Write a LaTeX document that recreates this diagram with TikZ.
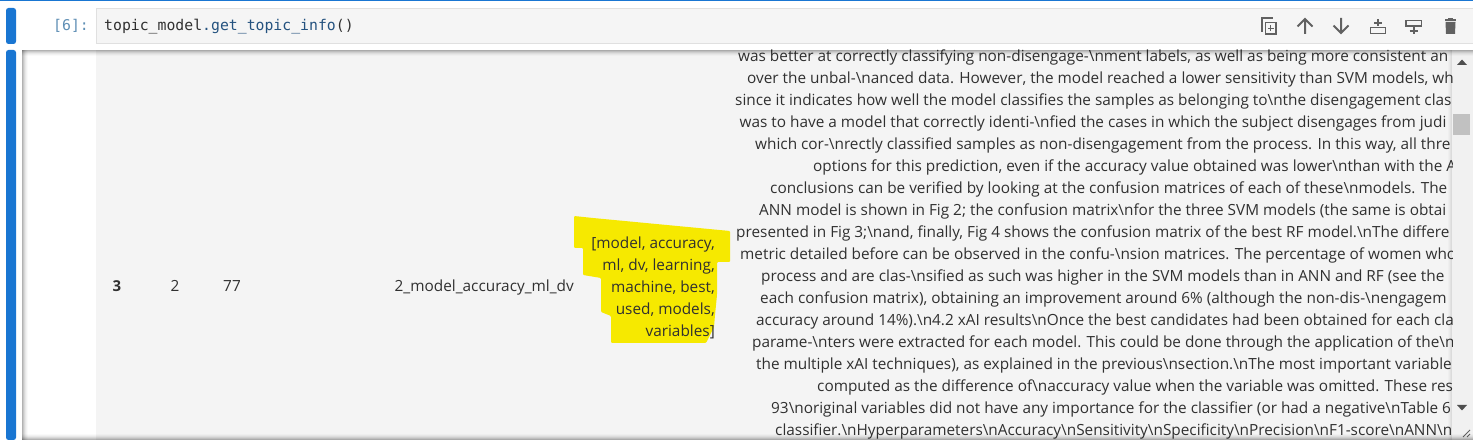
\documentclass[tikz,border=0pt]{standalone}
\usepackage{fontspec}
\setmainfont{Open Sans}
\newfontfamily\codefont{DejaVu Sans Mono}
\newcommand{\bs}{\textbackslash}
\definecolor{jblue}{HTML}{1976D2}
\definecolor{bodyink}{HTML}{303030}
\definecolor{panelgrey}{HTML}{F4F4F4}
\definecolor{inputgrey}{HTML}{F5F5F5}
\definecolor{inputline}{HTML}{E0E0E0}
\definecolor{iconink}{HTML}{616161}
\definecolor{codeblue}{HTML}{24527F}
\definecolor{promptblue}{HTML}{5F8FB5}
\definecolor{hilite}{HTML}{F6E900}
\definecolor{scrollbg}{HTML}{F1F1F1}
\definecolor{scrollthumb}{HTML}{C1C1C1}
\tikzset{
  x=1pt,y=-1pt,
  bodyline/.style={anchor=base west,inner sep=0pt,text=bodyink,font=\fontsize{15.35}{17}\selectfont},
  cellcell/.style={anchor=base,inner sep=0pt,text=bodyink,font=\fontsize{15.35}{17}\selectfont},
  reprline/.style={cellcell,anchor=base east},
  codeline/.style={anchor=base west,inner sep=0pt,font=\codefont\fontsize{14.8}{17}\selectfont},
  sidebar/.style={fill=jblue,rounded corners=2.5pt},
  iconline/.style={draw=iconink,line width=2pt},
  iconfill/.style={fill=iconink},
}
\begin{document}
\begin{tikzpicture}
\useasboundingbox (0,0) rectangle (1473,443);
\fill[white] (0,0) rectangle (1473,443);
% top rule and side bars
\fill[jblue] (0,0) rectangle (1473,1.5);
\fill[sidebar] (6,8) rectangle (16,44);
\fill[sidebar] (6,50) rectangle (16,440);
% input box
\draw[fill=inputgrey,draw=inputline] (96.5,8.5) rectangle (1474,43.5);
\node[codeline,text=promptblue] (prompt) at (53,31) {[6]:};
\node[codeline] (code) at (104,31) {\textcolor{bodyink}{topic\_model}\textcolor{codeblue}{.get\_topic\_info}\textcolor{bodyink}{()}};
% output panel
\fill[panelgrey] (96,50) rectangle (1452,440);
\fill[scrollbg] (1452,50) rectangle (1473,440);
% highlighter
\fill[hilite,rounded corners=1pt] (574,216) -- (593,218) -- (730,231) -- (730,262) -- (717,262)
  -- (717,295) -- (715,315) -- (714,327) -- (706,343) -- (611,343) -- (611,316) -- (601,312)
  -- (601,278) -- (583,275) -- (583,248) -- (574,248) -- cycle;
% table cells
\node[cellcell,font=\fontsize{15}{17}\selectfont\bfseries] (idx) at (117,292) {3};
\node[cellcell] (topic) at (175,292) {2};
\node[cellcell] (count) at (232,292) {77};
\node[cellcell,anchor=base west] (name) at (394.5,292) {2\_model\_accuracy\_ml\_dv};
\node[reprline] (r1) at (715,249) {[model, accuracy,};
\node[reprline] (r2) at (715,271) {ml, dv, learning,};
\node[reprline] (r3) at (715,293) {machine, best,};
\node[reprline] (r4) at (715,315) {used, models,};
\node[reprline] (r5) at (715,337) {variables]};
% long document text, cut off by the scrolling panel
\begin{scope}
\clip (730,48) rectangle (1452,440);
\node[bodyline] (l1) at (738,61.3) {was better at correctly classifying non-disengage-\bs{}nment labels, as well as being more consistent an};
\node[bodyline] (l2) at (747,83.3) {over the unbal-\bs{}nanced data. However, the model reached a lower sensitivity than SVM models, wh};
\node[bodyline] (l3) at (735,105.3) {since it indicates how well the model classifies the samples as belonging to\bs{}nthe disengagement clas};
\node[bodyline] (l4) at (739.5,127.3) {was to have a model that correctly identi-\bs{}nfied the cases in which the subject disengages from judi};
\node[bodyline] (l5) at (755,149.3) {which cor-\bs{}nrectly classified samples as non-disengagement from the process. In this way, all thre};
\node[bodyline] (l6) at (813,171.3) {options for this prediction, even if the accuracy value obtained was lower\bs{}nthan with the A};
\node[bodyline] (l7) at (770,193.3) {conclusions can be verified by looking at the confusion matrices of each of these\bs{}nmodels. The};
\node[bodyline] (l8) at (759,215.3) {ANN model is shown in Fig 2; the confusion matrix\bs{}nfor the three SVM models (the same is obtai};
\node[bodyline] (l9) at (736,237.3) {presented in Fig 3;\bs{}nand, finally, Fig 4 shows the confusion matrix of the best RF model.\bs{}nThe differe};
\node[bodyline] (l10) at (740,259.3) {metric detailed before can be observed in the confu-\bs{}nsion matrices. The percentage of women who};
\node[bodyline] (l11) at (761,281.3) {process and are clas-\bs{}nsified as such was higher in the SVM models than in ANN and RF (see the};
\node[bodyline] (l12) at (760,303.3) {each confusion matrix), obtaining an improvement around 6\% (although the non-dis-\bs{}nengagem};
\node[bodyline] (l13) at (756,325.3) {accuracy around 14\%).\bs{}n4.2 xAI results\bs{}nOnce the best candidates had been obtained for each cla};
\node[bodyline] (l14) at (752,347.3) {parame-\bs{}nters were extracted for each model. This could be done through the application of the\bs{}n};
\node[bodyline] (l15) at (756,369.3) {the multiple xAI techniques), as explained in the previous\bs{}nsection.\bs{}nThe most important variable};
\node[bodyline] (l16) at (817,391.3) {computed as the difference of\bs{}naccuracy value when the variable was omitted. These res};
\node[bodyline] (l17) at (771,413.3) {93\bs{}noriginal variables did not have any importance for the classifier (or had a negative\bs{}nTable 6};
\node[bodyline] (l18) at (775,435.3) {classifier.\bs{}nHyperparameters\bs{}nAccuracy\bs{}nSensitivity\bs{}nSpecificity\bs{}nPrecision\bs{}nF1-score\bs{}nANN\bs{}n};
\end{scope}
% scrollbar
\foreach \i/\o in {0/.10,1/.07,2/.04,3/.02}{
  \fill[black,opacity=\o] (1451-\i,50) rectangle (1452-\i,440);
}
\fill[scrollthumb] (1453,114) rectangle (1470,135);
\fill[iconink!80!black] (1457,65) -- (1462,59.5) -- (1467,65) -- cycle;
\fill[iconink!80!black] (1457,405) -- (1462,410.5) -- (1467,405) -- cycle;
\draw[iconink,line width=.8pt] (1463,437) -- (1470,430) (1467,437) -- (1470,434);
% panel shadows
\foreach \i/\o in {0/.30,1/.22,2/.15,3/.09,4/.05,5/.02}{
  \fill[black,opacity=\o] (22,50+\i) rectangle (1473,51+\i);
  \fill[black,opacity=\o] (22+\i,50) rectangle (23+\i,440);
  \fill[black,opacity=\o] (22,439-\i) rectangle (1473,440-\i);
}
% toolbar: duplicate
\draw[iconline,line width=1.4pt] (1262,32) -- (1262,18) -- (1273,18);
\draw[iconline,line width=1.5pt] (1265.5,22.5) rectangle (1276,34);
\draw[iconline,line width=1.1pt] (1270.7,25.5) -- (1270.7,31) (1268,28.2) -- (1273.5,28.2);
% toolbar: move up, move down
\draw[iconline] (1305,34) -- (1305,20) (1297.5,26.5) -- (1305,19) -- (1312.5,26.5);
\draw[iconline] (1341,18) -- (1341,32) (1333.5,25.5) -- (1341,33) -- (1348.5,25.5);
% toolbar: insert above
\draw[iconline,line width=1.8pt] (1370.5,27.5) rectangle (1385.5,33.5);
\draw[iconline,line width=1.8pt] (1378,19.5) -- (1378,26) (1374,22.7) -- (1382,22.7);
% toolbar: insert below
\draw[iconline,line width=1.8pt] (1406,20.5) rectangle (1421.5,26);
\draw[iconline,line width=1.8pt] (1413.7,27) -- (1413.7,34.5) (1409.5,30.7) -- (1418,30.7);
% toolbar: delete
\fill[iconfill] (1445.5,22) -- (1455.5,22) -- (1455,34) -- (1446,34) -- cycle;
\fill[iconfill] (1444.7,19.5) rectangle (1456.2,21.3);
\fill[iconfill] (1448,18.5) rectangle (1453,20);
\end{tikzpicture}
\end{document}
